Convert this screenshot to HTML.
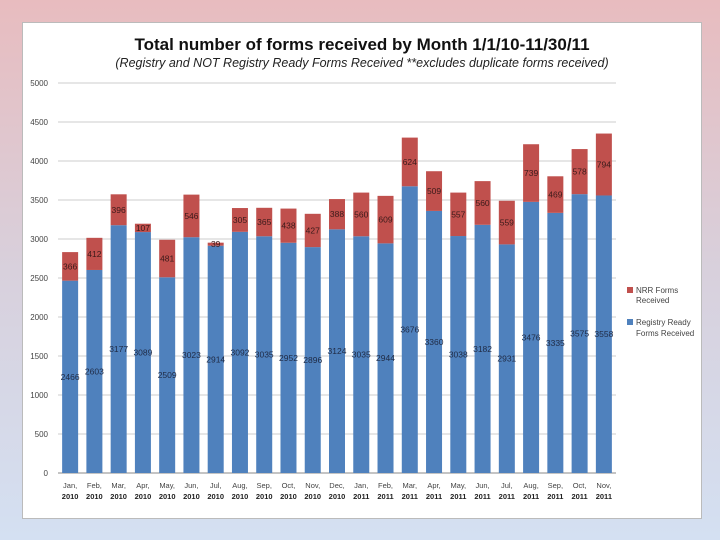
<!DOCTYPE html>
<html><head><meta charset="utf-8"><style>
body{margin:0;width:720px;height:540px;overflow:hidden;background:linear-gradient(#e8bcbf,#d8d0dc 50%,#d4e0f2);font-family:"Liberation Sans",sans-serif}
#panel{position:absolute;left:22px;top:22px;width:678px;height:495px;background:#fff;border:1px solid #bbb}
</style></head><body>
<div id="panel"></div>
<svg id="c" width="720" height="540" style="position:absolute;left:0;top:0">
<text x="362" y="50" text-anchor="middle" font-size="17" font-weight="bold" fill="#111">Total number of forms received by Month 1/1/10-11/30/11</text>
<text x="362" y="67" text-anchor="middle" font-size="12.5" font-style="italic" fill="#222">(Registry and NOT Registry Ready Forms Received **excludes duplicate forms received)</text>
<g id="grid"></g><g id="bars"></g>
<g>
<rect x="627" y="287" width="6" height="6" fill="#c0504d"/>
<text x="636" y="293" font-size="8" fill="#444">NRR Forms</text>
<text x="636" y="303" font-size="8" fill="#444">Received</text>
<rect x="627" y="319" width="6" height="6" fill="#4f81bd"/>
<text x="636" y="325" font-size="8" fill="#444">Registry Ready</text>
<text x="636" y="336" font-size="8" fill="#444">Forms Received</text>
</g>
</svg>
<script>
const months=["Jan,","Feb,","Mar,","Apr,","May,","Jun,","Jul,","Aug,","Sep,","Oct,","Nov,","Dec,","Jan,","Feb,","Mar,","Apr,","May,","Jun,","Jul,","Aug,","Sep,","Oct,","Nov,"];
const years=["2010","2010","2010","2010","2010","2010","2010","2010","2010","2010","2010","2010","2011","2011","2011","2011","2011","2011","2011","2011","2011","2011","2011"];
const registryReady=[2466,2603,3177,3089,2509,3023,2914,3092,3035,2952,2896,3124,3035,2944,3676,3360,3038,3182,2931,3476,3335,3575,3558];
const nrr=[366,412,396,107,481,546,39,305,365,438,427,388,560,609,624,509,557,560,559,739,469,578,794];
const yTicks=[0,500,1000,1500,2000,2500,3000,3500,4000,4500,5000];
const NS="http://www.w3.org/2000/svg";
const x0=58,x1=616,yb=473,yt=83,ymax=5000;
const y=v=>yb-(v/ymax)*(yb-yt);
const step=(x1-x0)/months.length;
const xc=i=>x0+step*(i+0.5);
const grid=document.getElementById('grid'),bars=document.getElementById('bars');
function mk(tag,attrs,parent){const e=document.createElementNS(NS,tag);for(const k in attrs)e.setAttribute(k,attrs[k]);parent.appendChild(e);return e;}
yTicks.forEach(t=>{
 const l=mk('line',{x1:x0,x2:x1,y1:y(t),y2:y(t),stroke:t===0?'#888':'#ccc','stroke-width':1},grid);
 
 
 const tx=mk('text',{x:48,y:y(t)+3,'text-anchor':'end','font-size':8,fill:'#444'},grid);
 tx.textContent=t;
 
 
});
const bw=16;
months.forEach((m,i)=>{
 const cx=xc(i),a=registryReady[i],b=nrr[i];
 const r1=mk('rect',{x:cx-bw/2,y:y(a),width:bw,height:yb-y(a),fill:'#4f81bd'},bars);
 
 
 const r2=mk('rect',{x:cx-bw/2,y:y(a+b),width:bw,height:y(a)-y(a+b),fill:'#c0504d'},bars);
 
 
 const t1=mk('text',{x:cx,y:y(a/2)+3,'text-anchor':'middle','font-size':8.5,fill:'#1f2a44'},bars);
 t1.textContent=a;
 
 
 const t2=mk('text',{x:cx,y:y(a+b/2)+3,'text-anchor':'middle','font-size':8.5,fill:'#3a1a1a'},bars);
 t2.textContent=b;
 
 
 const m1=mk('text',{x:cx,y:488,'text-anchor':'middle','font-size':7.5,fill:'#444'},bars);
 m1.textContent=m;
 
 
 const m2=mk('text',{x:cx,y:499,'text-anchor':'middle','font-size':7.5,fill:'#222','font-weight':'bold'},bars);
 m2.textContent=years[i];
 
 
});
</script>
</body></html>
